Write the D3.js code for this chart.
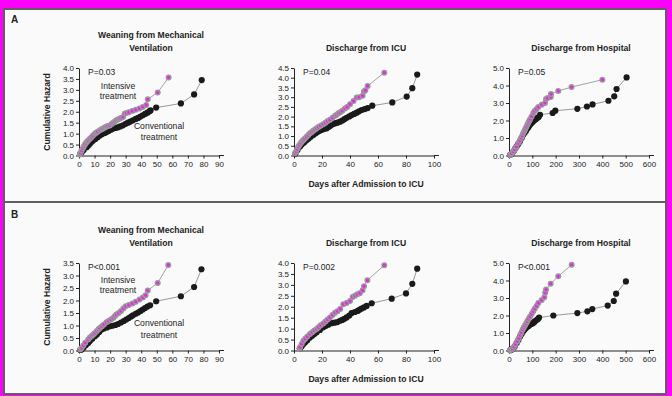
<!DOCTYPE html>
<html>
<head>
<meta charset="utf-8">
<script src="https://cdn.jsdelivr.net/npm/d3@7"></script>
<style>
  body { margin: 0; background: #ff00ff; }
  svg { display: block; font-family: "Liberation Sans", Arial, sans-serif; }
</style>
</head>
<body>
<svg id="chart" width="672" height="396"></svg>
<script>
// cumulative hazard, [day, hazard]
const weanA_int = [[0.5,0.05],[1,0.12],[1.7,0.23],[2.5,0.33],[3.2,0.42],[3.8,0.5],[4.5,0.57],[5.3,0.64],[6,0.7],[7,0.77],[8,0.84],[9,0.92],[10.2,1.0],[11,1.04],[12,1.09],[13.4,1.15],[14.5,1.2],[15.5,1.24],[16.5,1.28],[17.5,1.32],[18.5,1.35],[19.8,1.37],[21,1.44],[22,1.5],[23,1.55],[24,1.61],[25,1.65],[26,1.68],[27,1.72],[28.3,1.76],[29.4,1.91],[30.5,1.94],[32,1.98],[34.3,2.04],[36.5,2.09],[38.9,2.15],[41,2.22],[43.2,2.31],[44.2,2.57],[50.6,2.88],[57.6,3.57]];
const weanA_conv = [[0.8,0.07],[1.7,0.15],[3,0.25],[4.9,0.38],[6,0.46],[7,0.54],[8,0.62],[9.1,0.69],[10.5,0.76],[12,0.84],[13.4,0.92],[15,0.98],[16.5,1.03],[17.7,1.07],[19,1.12],[20.5,1.18],[21.9,1.23],[23.5,1.26],[25,1.29],[26.5,1.33],[28.3,1.38],[30,1.45],[31.5,1.5],[33,1.55],[34.7,1.61],[36.5,1.67],[38,1.72],[39.5,1.78],[41,1.84],[42.5,1.9],[44,1.96],[45.3,2.02],[46,2.06],[49.6,2.19],[65.5,2.38],[74,2.79],[78.9,3.45]];
const icuA_int = [[0.7,0.12],[1.5,0.22],[2.3,0.33],[3.1,0.46],[4,0.55],[5,0.65],[6,0.74],[6.7,0.8],[7.8,0.88],[9,0.96],[10.2,1.05],[11.4,1.14],[12.5,1.2],[13.7,1.27],[15,1.34],[16.2,1.4],[17.5,1.46],[19,1.53],[20.9,1.61],[22.5,1.69],[24,1.77],[25.7,1.84],[27.5,1.94],[29.3,2.04],[30.5,2.1],[31.7,2.17],[33,2.23],[34.5,2.3],[36.4,2.42],[38,2.5],[40,2.64],[42.5,2.8],[44.8,2.98],[46.5,3.0],[49,3.07],[50,3.29],[51,3.35],[52.6,3.58],[64.5,4.26]];
const icuA_conv = [[1,0.1],[2.5,0.28],[4.3,0.46],[5.5,0.56],[7,0.66],[8,0.73],[9.1,0.8],[10.5,0.88],[12,0.97],[13.8,1.06],[15.5,1.15],[17,1.22],[18.6,1.28],[20,1.33],[21.7,1.37],[23.4,1.4],[25,1.48],[26.5,1.55],[28.1,1.62],[29.5,1.66],[31,1.69],[32.9,1.74],[34.5,1.8],[36,1.87],[37.6,1.94],[39.5,2.01],[41.2,2.08],[43,2.14],[44.8,2.2],[46.5,2.27],[48.3,2.34],[50.5,2.39],[52.6,2.44],[55.9,2.56],[70.2,2.73],[80.5,3.03],[84.5,3.46],[88,4.16]];
const hospA_int = [[5,0.03],[11,0.12],[18.6,0.23],[25,0.35],[32,0.5],[40,0.71],[46,0.85],[52,1.0],[57,1.15],[61.4,1.28],[66,1.4],[70,1.52],[74,1.63],[78.6,1.76],[83,1.88],[87,1.98],[91,2.08],[97,2.23],[104,2.43],[110,2.55],[118,2.65],[125.7,2.77],[140,2.9],[154,3.0],[158.6,3.23],[165,3.28],[179,3.34],[180,3.51],[211,3.69],[268,3.91],[400,4.33]];
const hospA_conv = [[5,0.03],[11.4,0.1],[20,0.25],[27,0.4],[33,0.52],[40,0.66],[47,0.82],[54,1.0],[61,1.18],[67,1.3],[73,1.42],[80,1.56],[85,1.66],[90,1.76],[96,1.85],[101,1.92],[106,1.98],[111,2.04],[116,2.09],[121,2.14],[127,2.2],[133,2.33],[187,2.43],[198.6,2.56],[293,2.67],[334,2.8],[358,2.92],[426,3.13],[451,3.38],[461,3.8],[504,4.46]];

const weanB_int = [[0.8,0.04],[1.7,0.1],[2.8,0.2],[4,0.31],[5.9,0.44],[7,0.52],[8.2,0.58],[9.2,0.64],[10.2,0.7],[11.5,0.78],[12.5,0.85],[13.4,0.9],[14.7,0.97],[16,1.04],[17.7,1.13],[19,1.18],[20.5,1.24],[22,1.3],[23,1.37],[24,1.44],[25.5,1.5],[27,1.58],[28.5,1.68],[30,1.77],[32,1.82],[34.3,1.88],[36.5,1.95],[38.9,2.04],[41,2.12],[42.8,2.21],[44.2,2.4],[50.6,2.7],[57.4,3.42]];
const weanB_conv = [[0.8,0.02],[1.7,0.04],[3,0.12],[4.5,0.22],[5.9,0.3],[7,0.38],[8.5,0.47],[10.2,0.57],[11.5,0.64],[13,0.74],[14.5,0.84],[16,0.88],[18,0.92],[19.8,0.97],[21.5,0.99],[23.5,1.02],[25.1,1.06],[27,1.12],[28.8,1.18],[30.4,1.24],[32,1.3],[33.5,1.36],[34.7,1.41],[36.5,1.47],[38,1.52],[39.5,1.58],[41,1.64],[42.5,1.7],[44,1.76],[45.7,1.81],[49.6,1.97],[65.5,2.17],[74,2.54],[78.7,3.25]];
const icuB_int = [[3.8,0.08],[4.3,0.15],[5.5,0.3],[6.7,0.45],[8,0.54],[9.5,0.64],[11.4,0.76],[13,0.84],[14.5,0.91],[16.2,0.98],[17.5,1.06],[19,1.15],[20.9,1.24],[22.5,1.33],[24,1.42],[25.7,1.51],[27.5,1.62],[29.3,1.73],[31,1.8],[33,1.9],[35.2,2.11],[37.5,2.17],[40,2.26],[41.9,2.45],[43.5,2.5],[45.2,2.57],[47,2.62],[49,2.75],[50,2.94],[52.4,3.21],[64.5,3.9]];
const icuB_conv = [[4.3,0.1],[5.5,0.2],[6.7,0.3],[8,0.38],[9.5,0.47],[11.4,0.6],[13,0.68],[14.5,0.76],[16.2,0.83],[18.5,0.94],[20.9,1.06],[22.5,1.12],[24.5,1.18],[26.9,1.25],[29,1.27],[31,1.3],[32.9,1.36],[34.5,1.4],[36,1.45],[37.6,1.51],[39.5,1.6],[41.2,1.71],[43.5,1.76],[45.5,1.81],[47,1.87],[48.3,1.92],[50,1.97],[51.9,2.04],[55.5,2.16],[69.8,2.37],[80,2.61],[84.5,3.05],[88,3.74]];
const hospB_int = [[5,0.02],[10,0.06],[15.7,0.09],[22,0.22],[28,0.36],[35.7,0.53],[42,0.7],[48,0.88],[53,1.03],[58.6,1.2],[64,1.33],[69,1.45],[74,1.56],[78.6,1.67],[84,1.8],[90,1.93],[97,2.08],[104,2.24],[110,2.38],[118,2.55],[125.7,2.72],[140,2.88],[151.4,3.04],[155,3.3],[158.6,3.48],[178.6,3.82],[211,4.24],[268.6,4.9]];
const hospB_conv = [[6,0.02],[11,0.05],[16,0.09],[24,0.22],[33,0.43],[40,0.6],[47,0.78],[54,0.95],[61,1.1],[67,1.2],[73,1.28],[80,1.37],[85,1.42],[90,1.48],[96,1.52],[102,1.56],[108,1.62],[111,1.67],[118,1.74],[124,1.8],[129,1.88],[190,2.0],[293,2.14],[336,2.24],[357,2.37],[423,2.57],[449,2.83],[459,3.25],[501,3.95]];

const panelLabels = ["A", "B"];
const plotTitles = [["Weaning from Mechanical", "Ventilation"], ["Discharge from ICU"], ["Discharge from Hospital"]];
const pValuesA = ["P=0.03", "P=0.04", "P=0.05"];
const pValuesB = ["P<0.001", "P=0.002", "P<0.001"];
const xMaxes = [90, 100, 600];
const xSteps = [10, 20, 100];
const yMaxesA = [4.0, 4.5, 5.0];
const yMaxesB = [3.5, 4.0, 5.0];
const ySteps = [0.5, 0.5, 1.0];
const xAxisTitle = "Days after Admission to ICU";
const yAxisTitle = "Cumulative Hazard";

const svg = d3.select("#chart");
const ink = "#222";

// frame
svg.append("rect").attr("width", 672).attr("height", 396).attr("fill", "#ff00ff");
svg.append("rect")
  .attr("x", 4).attr("y", 9).attr("width", 662).attr("height", 385)
  .attr("fill", "#fafafa").attr("stroke", "#606060").attr("stroke-width", 2);
svg.append("line")
  .attr("x1", 4).attr("x2", 666).attr("y1", 202).attr("y2", 202)
  .attr("stroke", "#606060").attr("stroke-width", 2);

const plotLeft = [79, 294, 509];
const plotWidth = 140;

function drawPlot(i, dy, yMax, pLabel, intData, convData) {
  const g = svg.append("g").attr("transform", "translate(0," + dy + ")");
  const x = d3.scaleLinear().domain([0, xMaxes[i]]).range([plotLeft[i], plotLeft[i] + plotWidth]);
  const y = d3.scaleLinear().domain([0, yMax]).range([155.5, 68]);

  const xTicks = d3.range(0, xMaxes[i] + 0.01, xSteps[i]);
  const yTicks = d3.range(0, yMax + 0.001, ySteps[i]);

  const xa = g.append("g")
    .attr("transform", "translate(0,155.5)")
    .call(d3.axisBottom(x).tickValues(xTicks).tickSize(3).tickSizeOuter(0).tickPadding(3));
  const ya = g.append("g")
    .attr("transform", "translate(" + plotLeft[i] + ",0)")
    .call(d3.axisLeft(y).tickValues(yTicks).tickFormat(d3.format(".1f")).tickSize(3).tickSizeOuter(0).tickPadding(2));
  [xa, ya].forEach((a) => {
    a.selectAll("path, line").attr("stroke", ink);
    a.selectAll("text").attr("fill", ink).style("font-size", "8px");
  });
  // axis line runs a little past the last tick
  g.append("line")
    .attr("x1", x.range()[1]).attr("x2", x.range()[1] + 5)
    .attr("y1", 155.5).attr("y2", 155.5).attr("stroke", ink);

  const line = d3.line().x((d) => x(d[0])).y((d) => y(d[1]));
  const marks = g.append("g");
  marks.append("path").datum(convData).attr("d", line)
    .attr("fill", "none").attr("stroke", "#555").attr("stroke-width", 0.6);
  marks.append("path").datum(intData).attr("d", line)
    .attr("fill", "none").attr("stroke", "#666").attr("stroke-width", 0.6);
  marks.selectAll(".conv").data(convData).join("circle")
    .attr("class", "conv")
    .attr("cx", (d) => x(d[0])).attr("cy", (d) => y(d[1]))
    .attr("r", 3.1).attr("fill", "#1a1a1a");
  marks.selectAll(".int").data(intData).join("circle")
    .attr("class", "int")
    .attr("cx", (d) => x(d[0])).attr("cy", (d) => y(d[1]))
    .attr("r", 2.3).attr("fill", "#ee22ee").attr("stroke", "#999").attr("stroke-width", 1.4);

  // title
  const cx = plotLeft[i] + plotWidth / 2 + 2;
  const lines = plotTitles[i];
  const t0 = lines.length === 2 ? 38 : 51;
  lines.forEach((s, k) => {
    g.append("text").attr("x", cx).attr("y", t0 + k * 12.5)
      .attr("text-anchor", "middle").attr("fill", ink)
      .style("font-size", "8.6px").style("font-weight", "bold").text(s);
  });

  g.append("text").attr("x", plotLeft[i] + 9).attr("y", 75)
    .attr("fill", ink).style("font-size", "8.5px").text(pLabel);

  if (i === 0) {
    g.append("text").attr("transform", "translate(50,112) rotate(-90)")
      .attr("text-anchor", "middle").attr("fill", ink)
      .style("font-size", "8.6px").style("font-weight", "bold").text(yAxisTitle);
  }
  if (i === 1) {
    g.append("text").attr("x", cx).attr("y", 187)
      .attr("text-anchor", "middle").attr("fill", ink)
      .style("font-size", "8.6px").style("font-weight", "bold").text(xAxisTitle);
  }
}

const yMaxAll = [yMaxesA, yMaxesB];
const pAll = [pValuesA, pValuesB];
const dataAll = [
  [[weanA_int, weanA_conv], [icuA_int, icuA_conv], [hospA_int, hospA_conv]],
  [[weanB_int, weanB_conv], [icuB_int, icuB_conv], [hospB_int, hospB_conv]],
];
const panelShift = [0, 195];

panelLabels.forEach((lab, p) => {
  svg.append("text").attr("x", 11).attr("y", 23 + panelShift[p])
    .attr("fill", ink).style("font-size", "10px").style("font-weight", "bold").text(lab);
  for (let i = 0; i < 3; i++) {
    drawPlot(i, panelShift[p], yMaxAll[p][i], pAll[p][i], dataAll[p][i][0], dataAll[p][i][1]);
  }
});

// group labels in the weaning plots
const groupLabelY = [[89, 99, 129, 140], [88, 98, 131, 143]];
panelShift.forEach((dy, p) => {
  const ly = groupLabelY[p];
  const g = svg.append("g").attr("transform", "translate(0," + dy + ")")
    .attr("fill", ink).attr("text-anchor", "middle").style("font-size", "8.6px");
  g.append("text").attr("x", 118).attr("y", ly[0]).text("Intensive");
  g.append("text").attr("x", 118).attr("y", ly[1]).text("treatment");
  g.append("text").attr("x", 159).attr("y", ly[2]).text("Conventional");
  g.append("text").attr("x", 159).attr("y", ly[3]).text("treatment");
});
</script>
</body>
</html>
